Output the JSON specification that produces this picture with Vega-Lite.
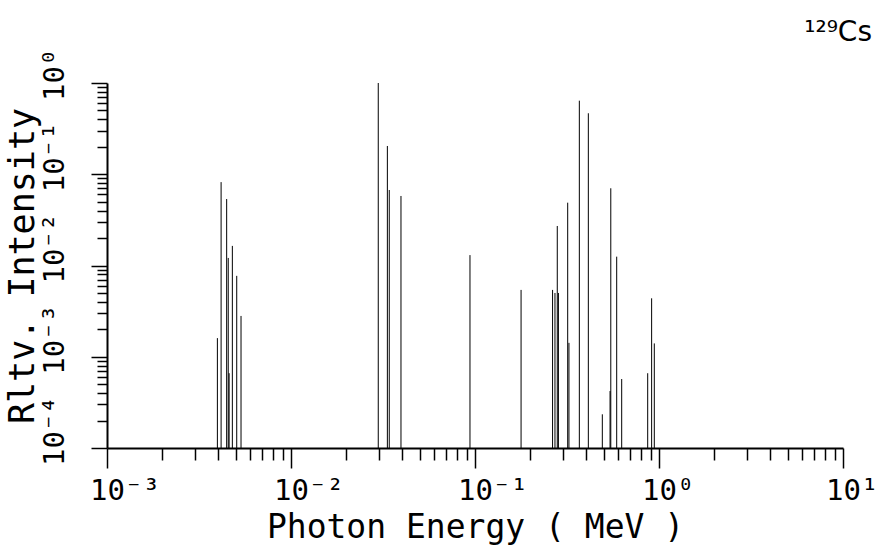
{
  "$schema": "https://vega.github.io/schema/vega-lite/v6.json",
  "width": 736,
  "height": 365,
  "autosize": {"type": "none"},
  "padding": {"left": 107, "top": 83, "right": 35, "bottom": 109},
  "background": "white",
  "config": {"view": {"stroke": null}, "font": "DejaVu Sans Mono"},
  "title": {
    "text": "¹²⁹Cs",
    "anchor": "end",
    "frame": "group",
    "dx": 29,
    "offset": -21,
    "fontSize": 28,
    "font": "DejaVu Sans",
    "fontWeight": "normal",
    "baseline": "alphabetic",
    "color": "black"
  },
  "data": {
    "values": [
      {"energy": 0.00398, "intensity": 0.0016},
      {"energy": 0.00417, "intensity": 0.082},
      {"energy": 0.00447, "intensity": 0.0535},
      {"energy": 0.00456, "intensity": 0.0121},
      {"energy": 0.00461, "intensity": 0.00066},
      {"energy": 0.0048, "intensity": 0.0164},
      {"energy": 0.00507, "intensity": 0.0077},
      {"energy": 0.00535, "intensity": 0.0028},
      {"energy": 0.0298, "intensity": 1.0},
      {"energy": 0.0334, "intensity": 0.204},
      {"energy": 0.0342, "intensity": 0.0672},
      {"energy": 0.0396, "intensity": 0.0578},
      {"energy": 0.0939, "intensity": 0.013},
      {"energy": 0.178, "intensity": 0.0054},
      {"energy": 0.264, "intensity": 0.0054},
      {"energy": 0.272, "intensity": 0.005},
      {"energy": 0.28, "intensity": 0.0271},
      {"energy": 0.284, "intensity": 0.005},
      {"energy": 0.319, "intensity": 0.0488},
      {"energy": 0.324, "intensity": 0.00142},
      {"energy": 0.369, "intensity": 0.64},
      {"energy": 0.413, "intensity": 0.466},
      {"energy": 0.492, "intensity": 0.000234},
      {"energy": 0.542, "intensity": 0.000421},
      {"energy": 0.547, "intensity": 0.0702},
      {"energy": 0.589, "intensity": 0.0125},
      {"energy": 0.627, "intensity": 0.00057},
      {"energy": 0.868, "intensity": 0.00066},
      {"energy": 0.912, "intensity": 0.00437},
      {"energy": 0.943, "intensity": 0.0014}
    ]
  },
  "mark": {"type": "rule", "color": "black", "strokeWidth": 1},
  "encoding": {
    "x": {
      "field": "energy",
      "type": "quantitative",
      "scale": {"type": "log", "domain": [0.001, 10]},
      "axis": {
        "title": "Photon Energy ( MeV )",
        "titleFont": "DejaVu Sans Mono",
        "titleFontSize": 33,
        "titleFontWeight": "normal",
        "titleColor": "black",
        "titlePadding": 6,
        "values": [0.001, 0.002, 0.003, 0.004, 0.005, 0.006, 0.007, 0.008, 0.009,
                   0.01, 0.02, 0.03, 0.04, 0.05, 0.06, 0.07, 0.08, 0.09,
                   0.1, 0.2, 0.3, 0.4, 0.5, 0.6, 0.7, 0.8, 0.9,
                   1, 2, 3, 4, 5, 6, 7, 8, 9, 10],
        "labelExpr": "abs(log(datum.value)/LN10 - round(log(datum.value)/LN10)) < 0.01 ? (round(log(datum.value)/LN10) == -3 ? '10⁻³' : round(log(datum.value)/LN10) == -2 ? '10⁻²' : round(log(datum.value)/LN10) == -1 ? '10⁻¹' : round(log(datum.value)/LN10) == 0 ? '10⁰' : '10¹') : ''",
        "labelFont": "DejaVu Sans Mono",
        "labelFontSize": 29,
        "labelColor": "black",
        "labelAlign": "left",
        "labelBaseline": "top",
        "labelOffset": -17.4,
        "labelPadding": 8,
        "labelOverlap": false,
        "labelFlush": false,
        "tickSize": {"condition": {"test": "abs(log(datum.value)/LN10 - round(log(datum.value)/LN10)) < 0.01", "value": 20}, "value": 12},
        "tickColor": "black",
        "tickWidth": 1.5,
        "domainColor": "black",
        "domainWidth": 2,
        "grid": false
      }
    },
    "y": {
      "field": "intensity",
      "type": "quantitative",
      "scale": {"type": "log", "domain": [0.0001, 1]},
      "axis": {
        "title": "Rltv. Intensity",
        "titleFont": "DejaVu Sans Mono",
        "titleFontSize": 35,
        "titleFontWeight": "normal",
        "titleColor": "black",
        "titlePadding": 0,
        "values": [0.0001, 0.0002, 0.0003, 0.0004, 0.0005, 0.0006, 0.0007, 0.0008, 0.0009,
                   0.001, 0.002, 0.003, 0.004, 0.005, 0.006, 0.007, 0.008, 0.009,
                   0.01, 0.02, 0.03, 0.04, 0.05, 0.06, 0.07, 0.08, 0.09,
                   0.1, 0.2, 0.3, 0.4, 0.5, 0.6, 0.7, 0.8, 0.9, 1],
        "labelExpr": "abs(log(datum.value)/LN10 - round(log(datum.value)/LN10)) < 0.01 ? (round(log(datum.value)/LN10) == -4 ? '10⁻⁴' : round(log(datum.value)/LN10) == -3 ? '10⁻³' : round(log(datum.value)/LN10) == -2 ? '10⁻²' : round(log(datum.value)/LN10) == -1 ? '10⁻¹' : '10⁰') : ''",
        "labelFont": "DejaVu Sans Mono",
        "labelFontSize": 29,
        "labelColor": "black",
        "labelAngle": 270,
        "labelAlign": "left",
        "labelBaseline": "alphabetic",
        "labelOffset": 17.4,
        "labelPadding": 28,
        "labelOverlap": false,
        "labelFlush": false,
        "tickSize": {"condition": {"test": "abs(log(datum.value)/LN10 - round(log(datum.value)/LN10)) < 0.01", "value": 16}, "value": 10},
        "tickColor": "black",
        "tickWidth": 1.5,
        "domainColor": "black",
        "domainWidth": 2,
        "grid": false
      }
    },
    "y2": {"datum": 0.0001}
  }
}
